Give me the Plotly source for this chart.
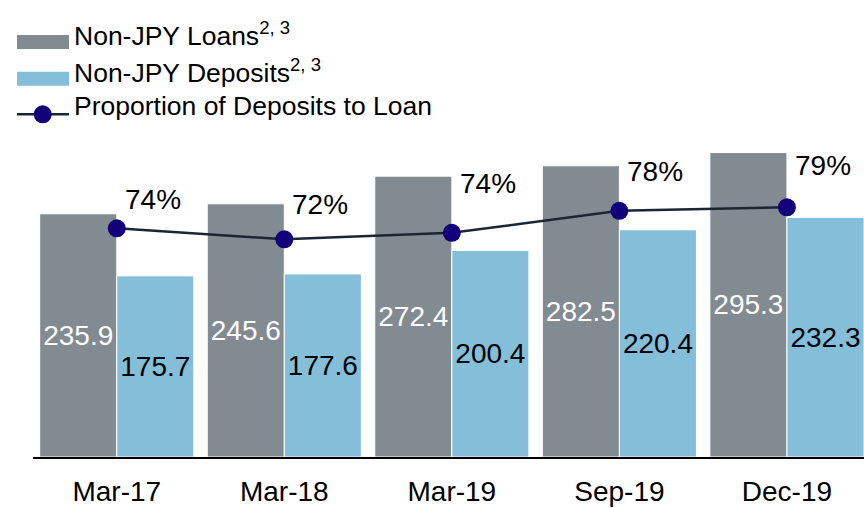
import plotly.graph_objects as go

categories = ["Mar-17", "Mar-18", "Mar-19", "Sep-19", "Dec-19"]
loans = [235.9, 245.6, 272.4, 282.5, 295.3]
deposits = [175.7, 177.6, 200.4, 220.4, 232.3]
ratio_pct = [74.5, 72.3, 73.6, 78.0, 78.7]

# styling
GRAY = "#818b91"
BLUE = "#85bed9"
LINE = "#1c2533"
MARK = "#12007a"
FONT = "Liberation Sans, Arial, sans-serif"
label_dx = 36  # px offset of % labels
label_dy = [29, 35, 49, 39, 42]

W, H = 864, 508
ML, MR, MT, MB = 33, 0, 140, 51
PW, PH = W - ML - MR, H - MT - MB


def px(x):
    return (x - ML) / PW


def py(y):
    return (H - MB - y) / PH


fig = go.Figure()
fig.add_trace(go.Bar(
    x=categories, y=loans, name="Non-JPY Loans",
    marker=dict(color=GRAY, line=dict(color="white", width=1)),
    text=[f"{v:.1f}" for v in loans], textposition="inside",
    insidetextanchor="middle", textangle=0, constraintext="none",
    textfont=dict(color="white", size=28, family=FONT),
    showlegend=False,
))
fig.add_trace(go.Bar(
    x=categories, y=deposits, name="Non-JPY Deposits",
    marker=dict(color=BLUE, line=dict(color="white", width=1)),
    text=[f"{v:.1f}" for v in deposits], textposition="inside",
    insidetextanchor="middle", textangle=0, constraintext="none",
    textfont=dict(color="black", size=28, family=FONT),
    showlegend=False,
))
fig.add_trace(go.Scatter(
    x=categories, y=ratio_pct, yaxis="y2", mode="lines+markers",
    name="Proportion of Deposits to Loan",
    line=dict(color=LINE, width=2.5),
    marker=dict(color=MARK, size=18),
    showlegend=False,
))

annotations = []
for c, v, dy in zip(categories, ratio_pct, label_dy):
    annotations.append(dict(
        x=c, y=v, xref="x", yref="y2", text=f"{round(v)}%", showarrow=False,
        xshift=label_dx, yshift=dy, font=dict(size=28, color="black", family=FONT),
        xanchor="center", yanchor="middle",
    ))

# custom legend
legend_rows = [
    ("Non-JPY Loans<sup>2, 3</sup>", GRAY, 34),
    ("Non-JPY Deposits<sup>2, 3</sup>", BLUE, 70.5),
    ("Proportion of Deposits to Loan", None, 105.5),
]
shapes = []
rect_tops = [35, 71.7]
for i, (txt, col, yc) in enumerate(legend_rows):
    annotations.append(dict(
        x=px(72), y=py(yc), xref="paper", yref="paper", text=txt, showarrow=False,
        xanchor="left", yanchor="middle", font=dict(size=26.5, color="black", family=FONT),
    ))
    if col is not None:
        shapes.append(dict(type="rect", xref="paper", yref="paper",
                           x0=px(17), x1=px(69), y0=py(rect_tops[i]), y1=py(rect_tops[i] + 14),
                           fillcolor=col, line=dict(width=0)))
shapes.append(dict(type="line", xref="paper", yref="paper",
                   x0=px(17), x1=px(69), y0=py(114.3), y1=py(114.3),
                   line=dict(color=LINE, width=2.5)))
shapes.append(dict(type="circle", xref="paper", yref="paper",
                   x0=px(42.7 - 9), x1=px(42.7 + 9), y0=py(114.3 - 9), y1=py(114.3 + 9),
                   fillcolor=MARK, line=dict(width=0)))

fig.update_layout(
    width=W, height=H,
    margin=dict(l=ML, r=MR, t=MT, b=MB),
    paper_bgcolor="white", plot_bgcolor="white",
    font=dict(family=FONT, color="black"),
    barmode="group", bargap=0.08, bargroupgap=0,
    xaxis=dict(range=[-0.5, 4.46], showline=True, linecolor="black", linewidth=2,
               showgrid=False, ticks="", ticklabelstandoff=8,
               tickfont=dict(size=28, color="black")),
    yaxis=dict(range=[0, 307.5], visible=False, showgrid=False),
    yaxis2=dict(range=[28.76, 92.16], overlaying="y", visible=False, showgrid=False),
    annotations=annotations,
    shapes=shapes,
    showlegend=False,
)

fig.write_html(
    "out.html",
    config={"displayModeBar": False},
    post_script="document.body.style.margin='0';document.body.style.overflow='hidden';",
)
